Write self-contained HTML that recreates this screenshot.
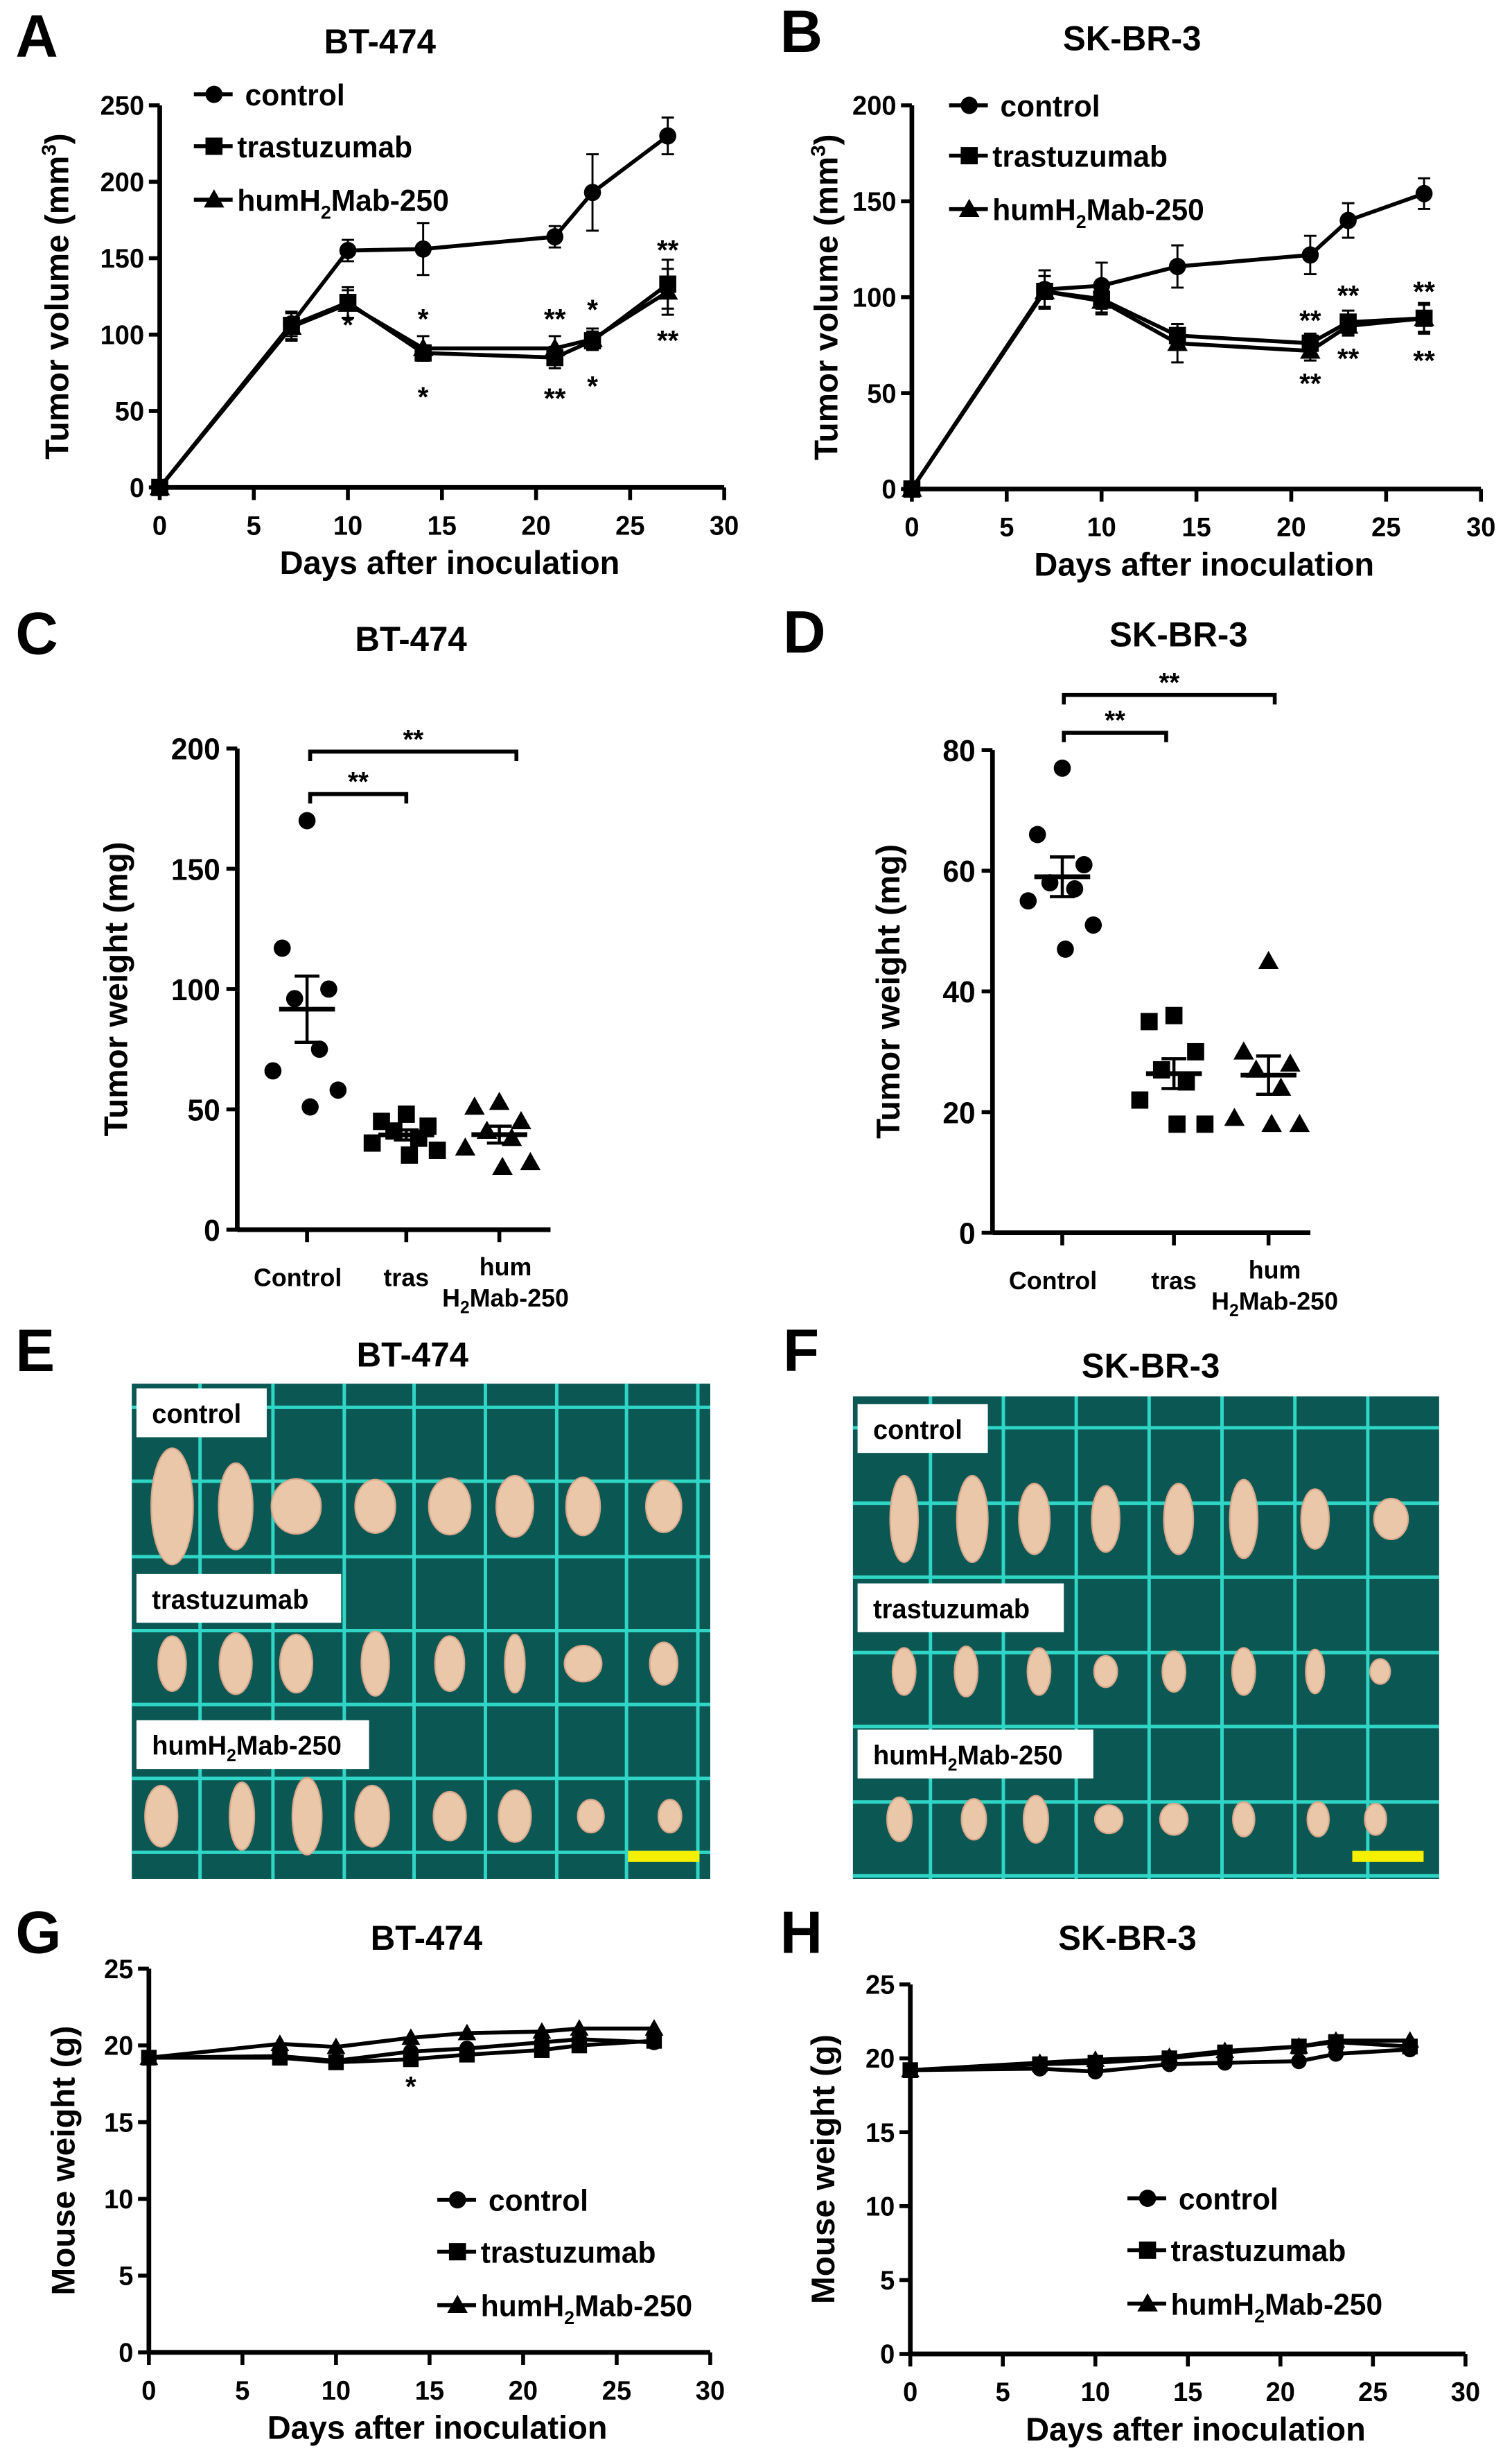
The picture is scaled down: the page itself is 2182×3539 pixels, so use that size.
<!DOCTYPE html>
<html><head><meta charset="utf-8"><title>Tumor figure</title>
<style>
html,body{margin:0;padding:0;background:#fff;}
svg{display:block;}
svg text{font-family:"Liberation Sans",sans-serif;font-weight:700;fill:#000;}
</style></head>
<body>
<svg id="fig" xmlns="http://www.w3.org/2000/svg" width="2182" height="3539" viewBox="0 0 975 1560" preserveAspectRatio="none">
</svg>
<script>
// ---------- DATA ----------
const daysA = [0,7,10,14,21,23,27];
const aControl = [0,107,155,156,164,193,230];
const aControlErr = [0,8,7,17,7,25,12];
const aTras = [0,106,121,88,85,96,133];
const aTrasErr = [0,9,10,5,7,6,16];
const aHum = [0,105,120,91,91,97,128];
const aHumErr = [0,9,9,8,8,7,15];

const daysB = [0,7,10,14,21,23,27];
const bControl = [0,104,106,116,122,140,154];
const bControlErr = [0,10,12,11,10,9,8];
const bTras = [0,103,99,80,76,87,89];
const bTrasErr = [0,8,7,6,5,6,8];
const bHum = [0,103,98,76,72,85,89];
const bHumErr = [0,8,7,10,5,5,7];

const cCats = ["Control","tras","hum"];
const cControl = [170,117,100,96,75,66,58,51];
const cTras = [48,45,43,41,38,36,33,31];
const cHum = [53,51,45,41,38,34,28,26];
const dControl = [77,66,61,58,57,55,51,47];
const dTras = [36,35,30,27,25,22,18,18];
const dHum = [45,30,28,27,24,19,18,18];

const daysG = [0,7,10,14,17,21,23,27];
const gControl = [19.2,19.3,19.0,19.6,19.8,20.2,20.4,20.2];
const gTras = [19.2,19.2,18.9,19.1,19.4,19.7,20.0,20.3];
const gHum = [19.2,20.1,19.9,20.5,20.8,20.9,21.1,21.1];
const hControl = [19.2,19.3,19.1,19.6,19.7,19.8,20.3,20.6];
const hTras = [19.2,19.6,19.7,20.0,20.4,20.8,21.1,20.8];
const hHum = [19.2,19.7,19.9,20.1,20.5,20.8,21.2,21.2];

const ticksX = [0,5,10,15,20,25,30];
const ticksA = [0,50,100,150,200,250];
const ticksB = [0,50,100,150,200];
const ticksC = [0,50,100,150,200];
const ticksD = [0,20,40,60,80];
const ticksG = [0,5,10,15,20,25];

// ---------- HELPERS ----------
const NS="http://www.w3.org/2000/svg";
const svg=document.getElementById('fig');
const JIT=[0,-16,14,-8,8,-22,20,2];
function mk(tag,attrs,parent,txt){const e=document.createElementNS(NS,tag);for(const k in attrs)e.setAttribute(k,attrs[k]);if(tag==='text'){e.setAttribute('font-weight','bold');e.setAttribute('font-family','Liberation Sans, sans-serif');}if(txt!==undefined)e.textContent=txt;(parent||svg).appendChild(e);return e;}
function grp(name){const g=mk('g',{});return g;}
function txt(g,x,y,s,size,name,anchor,rot){const t=mk('text',{x:x,y:y,'font-size':size,'text-anchor':anchor||'middle'},g,s);if(rot)t.setAttribute('transform','rotate(-90 '+x+' '+y+')');


return t;}
function marker(g,type,x,y,r){
 let m;
 if(type==='c')m=mk('circle',{cx:x,cy:y,r:r,fill:'#000'},g);
 else if(type==='s')m=mk('rect',{x:x-r,y:y-r,width:2*r,height:2*r,fill:'#000'},g);
 else m=mk('polygon',{points:(x)+','+(y-r*1.2)+' '+(x-r*1.2)+','+(y+r*0.9)+' '+(x+r*1.2)+','+(y+r*0.9),fill:'#000'},g);
 
 
}
function panelLetter(ch,x,y){txt(svg,x,y,ch,38,'panel-label-'+ch.toLowerCase(),'start');}

function lineChart(o){
 const g=grp(o.name);
 const sx=v=>o.x0+(v-0)/(30)*(o.x1-o.x0);
 const sy=v=>o.y0-(v/o.ymax)*(o.y0-o.y1);
 mk('line',{x1:o.x0,y1:o.y0,x2:o.x0,y2:o.y1,stroke:'#000','stroke-width':3},g);
 mk('line',{x1:o.x0,y1:o.y0,x2:o.x1,y2:o.y0,stroke:'#000','stroke-width':3},g);
 ticksX.forEach(t=>{mk('line',{x1:sx(t),y1:o.y0,x2:sx(t),y2:o.y0+8,stroke:'#000','stroke-width':2.5},g);txt(g,sx(t),o.y0+30,String(t),17,'x-tick-label');});
 o.yt.forEach(t=>{mk('line',{x1:o.x0-7,y1:sy(t),x2:o.x0,y2:sy(t),stroke:'#000','stroke-width':2.5},g);txt(g,o.x0-10,sy(t)+6,String(t),17,'y-tick-label','end');});
 o.series.forEach(s=>{
  const sg=grp('series-'+s.n);g.appendChild(sg);
  let d='';o.days.forEach((dd,i)=>{d+=(i?'L':'M')+sx(dd)+' '+sy(s.v[i]);});
  mk('path',{d:d,fill:'none',stroke:'#000','stroke-width':2.5},sg);
  o.days.forEach((dd,i)=>{
   if(s.e&&s.e[i]){const x=sx(dd);mk('line',{x1:x,y1:sy(s.v[i]-s.e[i]),x2:x,y2:sy(s.v[i]+s.e[i]),stroke:'#000','stroke-width':1.3},sg);
    mk('line',{x1:x-4,y1:sy(s.v[i]+s.e[i]),x2:x+4,y2:sy(s.v[i]+s.e[i]),stroke:'#000','stroke-width':1.3},sg);
    mk('line',{x1:x-4,y1:sy(s.v[i]-s.e[i]),x2:x+4,y2:sy(s.v[i]-s.e[i]),stroke:'#000','stroke-width':1.3},sg);}
   marker(sg,s.m,sx(dd),sy(s.v[i]),o.mr||5.5);
  });
 });
 const lg=grp('legend');g.appendChild(lg);
 o.leg.forEach((l,i)=>{const y=o.ly[i];
  mk('line',{x1:o.lx,y1:y,x2:o.lx+25,y2:y,stroke:'#000','stroke-width':2.5},lg);
  marker(lg,l.m,o.lx+13,y,5.5);
  const t=mk('text',{x:o.lx+(l.m==='c'?33:28),y:y+7,'font-size':19},lg,l.t);
  if(l.sub){t.textContent='humH';const ts=mk('tspan',{'font-size':12,dy:5},t,'2');mk('tspan',{dy:-5},t,'Mab-250');}
  
  
 });
 txt(g,o.tx,o.ty,o.title,22,'chart-title');
 txt(g,(o.x0+o.x1)/2+5,o.y0+55,'Days after inoculation',21,'x-axis-title');
 const yl=txt(g,o.ylx,(o.y0+o.y1)/2,'',21,'y-axis-title','middle',true);
 yl.textContent=o.ylab;
 if(o.sup){mk('tspan',{'font-size':13,dy:-8},yl,'3');mk('tspan',{dy:8},yl,')');}
 (o.stars||[]).forEach(s=>txt(g,sx(s[0]),sy(s[1]),s[2],18,'significance-mark'));
 return g;
}
const LEG=[{m:'c',t:'control'},{m:'s',t:'trastuzumab'},{m:'t',t:'',sub:true}];

lineChart({name:'chart-a-tumor-volume-bt474',x0:103,x1:467,y0:310,y1:67,ymax:250,yt:ticksA,days:daysA,
 series:[{n:'control',v:aControl,e:aControlErr,m:'c'},{n:'trastuzumab',v:aTras,e:aTrasErr,m:'s'},{n:'humh2mab-250',v:aHum,e:aHumErr,m:'t'}],
 leg:LEG,lx:125,ly:[60,93,127],title:'BT-474',tx:245,ty:34,ylab:'Tumor volume (mm',sup:true,ylx:44,
 stars:[[10,100,'*'],[14,104,'*'],[14,53,'*'],[21,104,'**'],[21,52,'**'],[23,110,'*'],[23,60,'*'],[27,149,'**'],[27,90,'**']]});
lineChart({name:'chart-b-tumor-volume-skbr3',x0:588,x1:955,y0:311,y1:67,ymax:200,yt:ticksB,days:daysB,
 series:[{n:'control',v:bControl,e:bControlErr,m:'c'},{n:'trastuzumab',v:bTras,e:bTrasErr,m:'s'},{n:'humh2mab-250',v:bHum,e:bHumErr,m:'t'}],
 leg:LEG,lx:612,ly:[67,99,133],title:'SK-BR-3',tx:730,ty:32,ylab:'Tumor volume (mm',sup:true,ylx:540,
 stars:[[21,83,'**'],[21,50,'**'],[23,96,'**'],[23,63,'**'],[27,98,'**'],[27,62,'**']]});
lineChart({name:'chart-g-mouse-weight-bt474',x0:96,x1:458,y0:1496,y1:1252,ymax:25,yt:ticksG,days:daysG,mr:5,
 series:[{n:'control',v:gControl,m:'c'},{n:'trastuzumab',v:gTras,m:'s'},{n:'humh2mab-250',v:gHum,m:'t'}],
 leg:LEG,lx:282,ly:[1399,1432,1466],title:'BT-474',tx:275,ty:1240,ylab:'Mouse weight (g)',ylx:48,
 stars:[[14,16.7,'*']]});
lineChart({name:'chart-h-mouse-weight-skbr3',x0:587,x1:945,y0:1497,y1:1262,ymax:25,yt:ticksG,days:daysG,mr:5,
 series:[{n:'control',v:hControl,m:'c'},{n:'trastuzumab',v:hTras,m:'s'},{n:'humh2mab-250',v:hHum,m:'t'}],
 leg:LEG,lx:727,ly:[1398,1431,1465],title:'SK-BR-3',tx:727,ty:1240,ylab:'Mouse weight (g)',ylx:538});

function scatter(o){
 const g=grp(o.name);
 const sy=v=>o.y0-(v/o.ymax)*(o.y0-o.y1);
 mk('line',{x1:o.x0,y1:o.y0,x2:o.x0,y2:o.y1,stroke:'#000','stroke-width':3},g);
 mk('line',{x1:o.x0,y1:o.y0,x2:o.xe,y2:o.y0,stroke:'#000','stroke-width':3},g);
 o.yt.forEach(t=>{mk('line',{x1:o.x0-7,y1:sy(t),x2:o.x0,y2:sy(t),stroke:'#000','stroke-width':2.5},g);txt(g,o.x0-11,sy(t)+7,String(t),19,'y-tick-label','end');});
 const groups=[o.g1,o.g2,o.g3],mk2=['c','s','t'];
 groups.forEach((vals,gi)=>{
  const cx=o.cx[gi];
  mk('line',{x1:cx,y1:o.y0,x2:cx,y2:o.y0+8,stroke:'#000','stroke-width':2.5},g);
  const n=vals.length;
  const mean=vals.reduce((a,b)=>a+b,0)/n;
  const sd=Math.sqrt(vals.reduce((a,b)=>a+(b-mean)*(b-mean),0)/(n-1));const se=sd/Math.sqrt(n);
  vals.forEach((v,i)=>{marker(g,mk2[gi],cx+JIT[i%JIT.length],sy(v),5.5);});
  mk('line',{x1:cx-18,y1:sy(mean),x2:cx+18,y2:sy(mean),stroke:'#000','stroke-width':3},g);
  mk('line',{x1:cx,y1:sy(mean-se),x2:cx,y2:sy(mean+se),stroke:'#000','stroke-width':2},g);
  mk('line',{x1:cx-8,y1:sy(mean+se),x2:cx+8,y2:sy(mean+se),stroke:'#000','stroke-width':2},g);
  mk('line',{x1:cx-8,y1:sy(mean-se),x2:cx+8,y2:sy(mean-se),stroke:'#000','stroke-width':2},g);
 });
 txt(g,o.cx[0]-6,o.y0+36,cCats[0],16,'x-category-label');
 txt(g,o.cx[1],o.y0+36,cCats[1],16,'x-category-label');
 txt(g,o.cx[2]+4,o.y0+29,cCats[2],16,'x-category-label');
 const t=txt(g,o.cx[2]+4,o.y0+49,'',16,'x-category-label');t.textContent='H';mk('tspan',{'font-size':11,dy:4},t,'2');mk('tspan',{dy:-4},t,'Mab-250');
 o.br.forEach(b=>{mk('path',{d:'M'+b[0]+' '+(b[2]+6)+'V'+b[2]+'H'+b[1]+'V'+(b[2]+6),fill:'none',stroke:'#000','stroke-width':2.5},g);
  txt(g,(b[0]+b[1])/2,b[2]-2,'**',17,'significance-mark');});
 txt(g,o.tx,o.ty,o.title,22,'chart-title');
 txt(g,o.ylx,(o.y0+o.y1)/2,'Tumor weight (mg)',21,'y-axis-title','middle',true);
}
scatter({name:'chart-c-tumor-weight-bt474',x0:153,xe:355,y0:782,y1:476,ymax:200,yt:ticksC,cx:[198,262,322],g1:cControl,g2:cTras,g3:cHum,
 br:[[200,262,505],[200,333,478]],title:'BT-474',tx:265,ty:414,ylx:82});
scatter({name:'chart-d-tumor-weight-skbr3',x0:640,xe:845,y0:784,y1:477,ymax:80,yt:ticksD,cx:[685,757,818],g1:dControl,g2:dTras,g3:dHum,
 br:[[686,752,466],[686,822,442]],title:'SK-BR-3',tx:760,ty:411,ylx:580});

function photo(o){
 const g=grp(o.name);
 mk('rect',{x:o.x,y:o.y,width:o.w,height:o.h,fill:'#0a5753'},g);
 o.vx.forEach(x=>mk('line',{x1:x,y1:o.y,x2:x,y2:o.y+o.h,stroke:'#2fd6c6','stroke-width':2.2},g));
 o.hy.forEach(y=>mk('line',{x1:o.x,y1:y,x2:o.x+o.w,y2:y,stroke:'#2fd6c6','stroke-width':2.2},g));
 o.rows.forEach(r=>{r.x.forEach((x,i)=>{const e=mk('ellipse',{cx:x,cy:r.y,rx:r.w[i]/2,ry:r.h[i]/2,fill:'#eac7a8',stroke:'#d9a88c','stroke-width':1},g);
  });});
 o.labels.forEach(l=>{mk('rect',{x:o.x+3,y:l.y,width:l.w,height:31,fill:'#fff'},g);
  const t=mk('text',{x:o.x+13,y:l.y+22,'font-size':17},g,l.t);
  if(l.sub){t.textContent='humH';mk('tspan',{'font-size':11,dy:4},t,'2');mk('tspan',{dy:-4},t,'Mab-250');}
  
  });
 mk('rect',{x:o.bar,y:1177,width:46,height:7,fill:'#f5f000'},g);
 txt(g,o.tx,o.ty,o.title,22,'photo-title');
}
photo({name:'photo-e-bt474',x:85,y:880,w:373,h:315,vx:[129,176,222,267,313,359,404,450],hy:[895,942,990,1037,1084,1131,1178],
 rows:[{y:958,x:[111,152,191,242,290,332,376,428],w:[27,22,32,26,27,24,22,23],h:[74,55,35,34,36,39,37,33]},
       {y:1058,x:[111,152,191,242,290,332,376,428],w:[18,21,21,18,19,13,24,18],h:[35,39,37,41,35,37,23,27]},
       {y:1155,x:[104,156,198,240,290,332,381,432],w:[21,16,19,22,21,21,17,15],h:[39,43,49,39,31,33,21,21]}],
 labels:[{y:883,w:84,t:'control'},{y:1001,w:132,t:'trastuzumab'},{y:1094,w:150,t:'',sub:true}],bar:405,title:'BT-474',tx:266,ty:869});
photo({name:'photo-f-skbr3',x:550,y:888,w:378,h:307,vx:[600,647,694,741,788,835,882],hy:[908,956,1003,1051,1098,1146,1193],
 rows:[{y:966,x:[583,627,667,713,760,802,848,897],w:[18,20,20,18,19,18,18,22],h:[55,55,45,42,45,50,38,26]},
       {y:1063,x:[583,623,670,713,757,802,848,890],w:[15,15,15,15,15,15,12,13],h:[30,32,30,20,26,30,28,16]},
       {y:1157,x:[580,628,668,715,757,802,850,887],w:[16,16,16,18,18,14,14,14],h:[28,26,30,18,20,22,22,20]}],
 labels:[{y:893,w:84,t:'control'},{y:1007,w:133,t:'trastuzumab'},{y:1100,w:152,t:'',sub:true}],bar:872,title:'SK-BR-3',tx:742,ty:876});

panelLetter('A',10,36);panelLetter('B',503,33);panelLetter('C',10,416);panelLetter('D',505,415);
panelLetter('E',10,872);panelLetter('F',505,872);panelLetter('G',10,1242);panelLetter('H',503,1242);
</script>
</body></html>
